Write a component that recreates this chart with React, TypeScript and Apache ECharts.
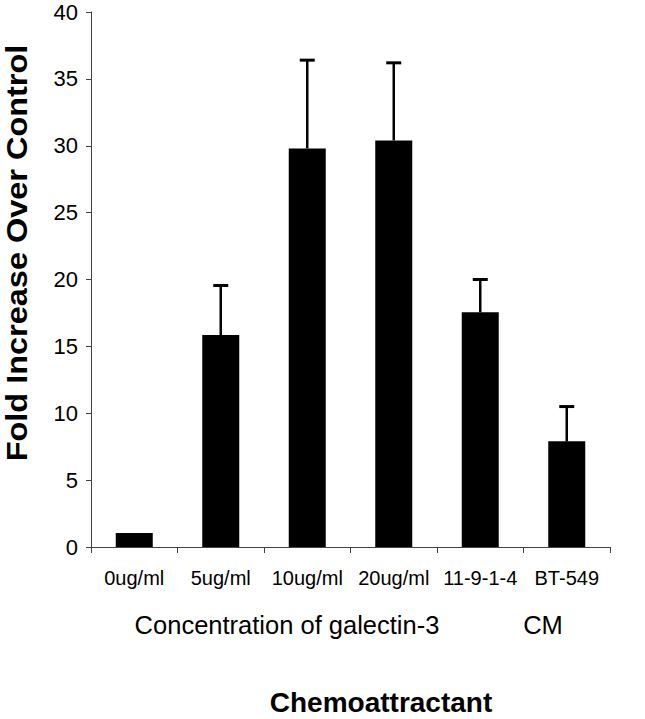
import React, { useEffect, useRef } from "react";
import * as echarts from "echarts";

const categories = ["0ug/ml", "5ug/ml", "10ug/ml", "20ug/ml", "11-9-1-4", "BT-549"];
const means = [1.05, 15.85, 29.8, 30.4, 17.55, 7.9];
const errors = [0, 3.7, 6.6, 5.8, 2.45, 2.6];
const yTicks = { min: 0, max: 40, interval: 5 };
const yTitle = "Fold Increase Over Control";
const xTitle = "Chemoattractant";
const groupLabels = ["Concentration of galectin-3", "CM"];

const FONT = 'Arial, "Liberation Sans", Helvetica, sans-serif';

export default function App() {
  const ref = useRef<HTMLDivElement>(null);
  useEffect(() => {
    if (!ref.current) return;
    const chart = echarts.init(ref.current, undefined, { renderer: "svg" });
    chart.setOption({
      animation: false,
      backgroundColor: "#fff",
      grid: {
        left: 91,
        right: 35,
        top: 12,
        bottom: 172,
        containLabel: false,
        outerBoundsMode: "none",
      },
      xAxis: {
        type: "category",
        data: categories,
        axisLine: { show: true, lineStyle: { color: "#444", width: 1 } },
        axisTick: { show: true, interval: 0, length: 6, lineStyle: { color: "#444" } },
        axisLabel: { interval: 0, fontSize: 20, margin: 21, color: "#000", fontFamily: FONT },
      },
      yAxis: {
        type: "value",
        min: yTicks.min,
        max: yTicks.max,
        interval: yTicks.interval,
        axisLine: { show: true, lineStyle: { color: "#444", width: 1 } },
        axisTick: { show: true, length: 5, lineStyle: { color: "#444" } },
        splitLine: { show: false },
        axisLabel: { fontSize: 22, margin: 13, color: "#000", fontFamily: FONT },
      },
      graphic: [
        {
          type: "text",
          x: 17,
          y: 253,
          rotation: Math.PI / 2,
          scaleX: 1.12,
          style: {
            text: yTitle,
            fontSize: 29,
            fontWeight: "bold",
            fontFamily: FONT,
            fill: "#000",
            align: "center",
            verticalAlign: "middle",
          },
        },
        {
          type: "text",
          x: 287,
          y: 625,
          style: {
            text: groupLabels[0],
            fontSize: 25.5,
            fontFamily: FONT,
            fill: "#000",
            align: "center",
            verticalAlign: "middle",
          },
        },
        {
          type: "text",
          x: 543,
          y: 625,
          style: {
            text: groupLabels[1],
            fontSize: 25.5,
            fontFamily: FONT,
            fill: "#000",
            align: "center",
            verticalAlign: "middle",
          },
        },
        {
          type: "text",
          x: 381,
          y: 702,
          style: {
            text: xTitle,
            fontSize: 28,
            fontWeight: "bold",
            fontFamily: FONT,
            fill: "#000",
            align: "center",
            verticalAlign: "middle",
          },
        },
      ],
      series: [
        {
          type: "bar",
          data: means,
          barWidth: 37,
          itemStyle: { color: "#000" },
        },
        {
          type: "custom",
          data: means.map((m, i) => [i, m, errors[i]]),
          encode: { x: 0, y: 1 },
          z: 3,
          renderItem: (params: any, api: any) => {
            const x = api.value(0);
            const y = api.value(1);
            const e = api.value(2);
            if (!e) return null;
            const base = api.coord([x, y]);
            const top = api.coord([x, y + e]);
            const half = 7.5;
            return {
              type: "group",
              children: [
                {
                  type: "line",
                  shape: { x1: base[0], y1: base[1], x2: top[0], y2: top[1] },
                  style: { stroke: "#000", lineWidth: 2.5 },
                },
                {
                  type: "line",
                  shape: { x1: top[0] - half, y1: top[1], x2: top[0] + half, y2: top[1] },
                  style: { stroke: "#000", lineWidth: 3 },
                },
              ],
            };
          },
        },
      ],
    });
    return () => chart.dispose();
  }, []);
  return (
    <div
      ref={ref}
      style={{ position: "fixed", left: 0, top: 0, width: 645, height: 719, background: "#fff" }}
    />
  );
}
